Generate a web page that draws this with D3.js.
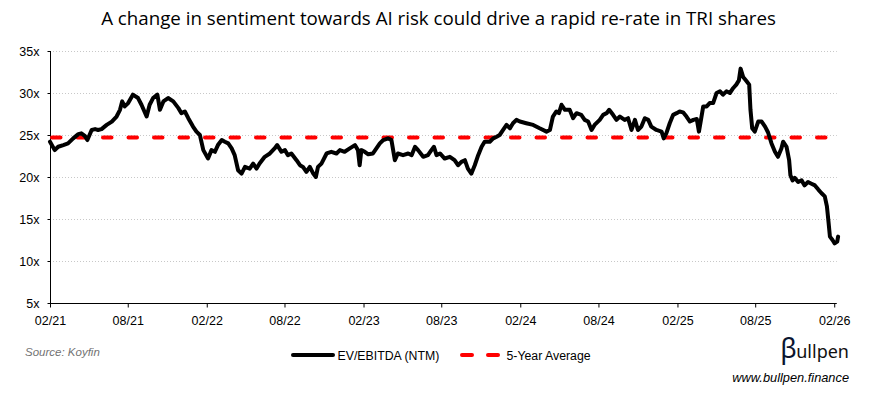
<!DOCTYPE html>
<html>
<head>
<meta charset="utf-8">
<script src="https://cdn.jsdelivr.net/npm/d3@7"></script>
<style>
  html, body { margin: 0; padding: 0; background: #fff; }
  svg { display: block; }
</style>
</head>
<body>
<svg id="chart" width="869" height="395"></svg>
<script>
const titleText = "A change in sentiment towards AI risk could drive a rapid re-rate in TRI shares";
const seriesName = "EV/EBITDA (NTM)";
const avgName = "5-Year Average";
const sourceText = "Source: Koyfin";
const brandRest = "ullpen";
const brandUrl = "www.bullpen.finance";

const yTicks = [5, 10, 15, 20, 25, 30, 35];
const xTickDates = ["2021-02-01","2021-08-01","2022-02-01","2022-08-01","2023-02-01","2023-08-01",
                    "2024-02-01","2024-08-01","2025-02-01","2025-08-01","2026-02-01"];
const xDomain = ["2021-02-01", "2026-02-07"];
const yDomain = [5, 35];
const fiveYearAverage = 24.7;

const dates = [
"2021-02-01","2021-02-12","2021-02-20","2021-03-04","2021-03-15","2021-03-27","2021-04-08","2021-04-15","2021-04-23","2021-04-29",
"2021-05-09","2021-05-17","2021-05-24","2021-06-01","2021-06-13","2021-06-25","2021-07-06","2021-07-14","2021-07-19","2021-07-25",
"2021-08-02","2021-08-13","2021-08-25","2021-09-02","2021-09-14","2021-09-21","2021-09-29","2021-10-09","2021-10-15","2021-10-23",
"2021-11-03","2021-11-15","2021-11-27","2021-12-04","2021-12-12","2021-12-20","2021-12-31","2022-01-08","2022-01-16","2022-01-24",
"2022-02-04","2022-02-12","2022-02-20","2022-02-27","2022-03-08","2022-03-15","2022-03-23","2022-03-31","2022-04-07","2022-04-15",
"2022-04-23","2022-05-01","2022-05-12","2022-05-20","2022-05-28","2022-06-04","2022-06-16","2022-06-28","2022-07-09","2022-07-15",
"2022-07-25","2022-08-02","2022-08-09","2022-08-17","2022-08-29","2022-09-06","2022-09-13","2022-09-21","2022-09-29","2022-10-07",
"2022-10-13","2022-10-18","2022-10-26","2022-11-07","2022-11-18","2022-11-30","2022-12-08","2022-12-19","2022-12-31","2023-01-12",
"2023-01-19","2023-01-23","2023-01-27","2023-02-04","2023-02-12","2023-02-23","2023-03-03","2023-03-11","2023-03-19","2023-03-30",
"2023-04-07","2023-04-15","2023-04-22","2023-05-04","2023-05-16","2023-05-24","2023-06-01","2023-06-08","2023-06-20","2023-07-01",
"2023-07-09","2023-07-15","2023-07-21","2023-07-29","2023-08-09","2023-08-21","2023-09-01","2023-09-09","2023-09-17","2023-09-25",
"2023-10-02","2023-10-10","2023-10-18","2023-10-26","2023-11-03","2023-11-10","2023-11-22","2023-11-30","2023-12-08","2023-12-15",
"2023-12-23","2023-12-31","2024-01-08","2024-01-15","2024-01-23","2024-01-31","2024-02-15","2024-03-02","2024-03-17","2024-04-02",
"2024-04-10","2024-04-17","2024-04-25","2024-05-01","2024-05-07","2024-05-15","2024-05-26","2024-06-03","2024-06-11","2024-06-22",
"2024-06-30","2024-07-08","2024-07-16","2024-07-23","2024-08-04","2024-08-12","2024-08-20","2024-08-26","2024-09-04","2024-09-12",
"2024-09-20","2024-10-01","2024-10-09","2024-10-17","2024-10-25","2024-11-01","2024-11-09","2024-11-17","2024-11-25","2024-12-02",
"2024-12-14","2024-12-26","2024-12-31","2025-01-06","2025-01-14","2025-01-22","2025-01-30","2025-02-06","2025-02-14","2025-02-22",
"2025-03-02","2025-03-10","2025-03-18","2025-03-23","2025-03-27","2025-04-02","2025-04-10","2025-04-17","2025-04-25","2025-05-03",
"2025-05-11","2025-05-18","2025-05-26","2025-06-03","2025-06-11","2025-06-18","2025-06-24","2025-06-28","2025-07-04","2025-07-12",
"2025-07-18","2025-07-21","2025-07-25","2025-07-31","2025-08-08","2025-08-16","2025-08-24","2025-08-31","2025-09-08","2025-09-16",
"2025-09-23","2025-10-01","2025-10-05","2025-10-13","2025-10-19","2025-10-22","2025-10-27","2025-11-01","2025-11-09","2025-11-17",
"2025-11-24","2025-12-02","2025-12-10","2025-12-18","2025-12-26","2026-01-02","2026-01-10","2026-01-15","2026-01-19","2026-01-22",
"2026-01-28","2026-02-02","2026-02-08","2026-02-10"
];
const evEbitda = [
24.2,23.2,23.6,23.8,24.0,24.6,25.1,25.2,24.9,24.4,
25.6,25.7,25.6,25.7,26.2,26.6,27.2,28.0,29.0,28.4,
28.8,29.8,29.4,28.6,27.2,28.6,29.4,29.8,28.0,29.0,
29.4,29.0,28.2,27.6,27.8,27.0,26.0,25.4,25.0,23.2,
22.2,23.2,23.0,23.8,24.4,24.2,24.0,23.4,22.6,20.8,
20.4,21.2,21.0,21.6,21.0,21.6,22.4,22.8,23.4,23.8,
23.0,23.2,22.6,22.8,22.0,21.4,21.2,20.6,21.2,20.4,
20.0,21.2,21.6,22.8,23.0,22.8,23.2,23.0,23.4,23.8,
23.2,21.4,23.2,23.0,22.7,22.8,23.4,24.0,24.4,24.6,
24.4,22.0,22.8,22.6,22.8,22.6,23.6,23.2,22.4,22.6,
23.2,23.6,22.6,22.8,22.2,22.4,22.0,21.4,21.8,22.0,
21.0,20.4,21.4,22.6,23.6,24.2,24.2,24.6,24.8,25.0,
25.6,26.2,25.8,26.4,26.8,26.6,26.4,26.2,25.8,25.4,
25.6,27.2,27.8,27.6,28.6,28.0,28.0,27.0,27.6,27.4,
26.8,26.6,25.6,26.2,26.8,27.4,27.6,28.0,27.4,26.8,
27.2,26.8,27.0,25.6,26.8,25.6,26.0,27.0,26.8,26.0,
25.6,25.4,24.6,25.2,26.4,27.4,27.6,27.8,27.7,27.2,
26.6,26.8,26.9,25.4,26.6,28.4,28.4,28.8,28.8,30.0,
30.2,29.8,30.2,30.0,30.6,31.0,31.5,32.9,31.9,31.4,
31.0,28.0,25.8,25.4,26.6,26.6,26.0,25.3,24.0,23.0,
22.4,23.4,24.2,23.6,22.0,20.2,19.6,19.9,19.4,19.6,
19.0,19.4,19.2,19.0,18.5,18.1,17.7,16.5,14.5,12.9,
12.5,12.1,12.3,12.9
];

const parse = d3.timeParse("%Y-%m-%d");
const fmt = d3.timeFormat("%m/%y");
const data = dates.map((d, i) => ({ date: parse(d), value: evEbitda[i] }));

const svg = d3.select("#chart");
const plotLeft = 50, plotRight = 836.8, plotTop = 51, plotBottom = 303;

const x = d3.scaleTime().domain(xDomain.map(parse)).range([plotLeft, plotRight]);
const y = d3.scaleLinear().domain(yDomain).range([plotBottom, plotTop]);

const font = "'Liberation Sans', Arial, sans-serif";

// Title
const title = svg.append("text")
  .attr("x", 438.5).attr("y", 25)
  .attr("text-anchor", "middle")
  .style("font-family", "'Open Sans', sans-serif")
  .style("font-size", "18px")
  .style("fill", "#000")
  .text(titleText);
{
  const w = title.node().getComputedTextLength();
  title.style("font-size", (18 * 675 / w).toFixed(2) + "px");
}

// Gridlines
svg.append("g")
  .selectAll("line")
  .data(yTicks.filter(t => t !== yDomain[0]))
  .join("line")
  .attr("x1", plotLeft).attr("x2", plotRight)
  .attr("y1", d => y(d) + 0.5).attr("y2", d => y(d) + 0.5)
  .attr("stroke", "#c8c8c8")
  .attr("stroke-width", 1)
  .attr("stroke-dasharray", "1,2");

// Y axis
const yAxis = svg.append("g")
  .attr("transform", `translate(${plotLeft + 0.5},0)`)
  .call(d3.axisLeft(y).tickValues(yTicks).tickSize(3).tickPadding(8).tickFormat(d => d + "x"));
yAxis.select(".domain").attr("stroke", "#000").attr("d", `M0,${plotTop}V${plotBottom}`);
yAxis.selectAll(".tick line").attr("stroke", "#000");
yAxis.selectAll("text").style("font-family", font).style("font-size", "12.5px").style("fill", "#000");

// X axis
const xAxis = svg.append("g")
  .attr("transform", `translate(0,${plotBottom + 0.5})`)
  .call(d3.axisBottom(x).tickValues(xTickDates.map(parse)).tickSize(4).tickPadding(9).tickFormat(fmt));
xAxis.select(".domain").attr("stroke", "#000").attr("d", `M${plotLeft},0H${plotRight}`);
xAxis.selectAll(".tick line").attr("stroke", "#000");
xAxis.selectAll("text").style("font-family", font).style("font-size", "12.5px").style("fill", "#000");

// Average line
svg.append("line")
  .attr("x1", plotLeft + 2).attr("x2", x(data[data.length - 1].date))
  .attr("y1", y(fiveYearAverage)).attr("y2", y(fiveYearAverage))
  .attr("stroke", "#ff0000")
  .attr("stroke-width", 4)
  .attr("stroke-linecap", "round")
  .attr("stroke-dasharray", "8.5,17");

// Series line
svg.append("path")
  .datum(data)
  .attr("fill", "none")
  .attr("stroke", "#000")
  .attr("stroke-width", 4)
  .attr("stroke-linejoin", "round")
  .attr("stroke-linecap", "round")
  .attr("d", d3.line().x(d => x(d.date)).y(d => y(d.value)));

// Source
svg.append("text")
  .attr("x", 25).attr("y", 356)
  .style("font-family", font).style("font-size", "11.5px")
  .style("font-style", "italic").style("fill", "#737373")
  .text(sourceText);

// Legend
const lg = svg.append("g");
lg.append("line")
  .attr("x1", 293).attr("x2", 333).attr("y1", 355).attr("y2", 355)
  .attr("stroke", "#000").attr("stroke-width", 4).attr("stroke-linecap", "round");
lg.append("text")
  .attr("x", 337.5).attr("y", 359.5)
  .style("font-family", font).style("font-size", "12.3px").style("fill", "#000")
  .text(seriesName);
lg.append("line")
  .attr("x1", 462).attr("x2", 498).attr("y1", 355).attr("y2", 355)
  .attr("stroke", "#ff0000").attr("stroke-width", 4).attr("stroke-linecap", "round")
  .attr("stroke-dasharray", "10,16");
lg.append("text")
  .attr("x", 506.5).attr("y", 359.5)
  .style("font-family", font).style("font-size", "12.3px").style("fill", "#000")
  .text(avgName);

// Brand
const brand = svg.append("text")
  .attr("x", 849).attr("y", 358)
  .attr("text-anchor", "end")
  .style("font-family", "'Noto Sans', sans-serif")
  .style("fill", "#111");
brand.append("tspan").style("font-size", "27px").style("fill", "#0a1530").text("β");
brand.append("tspan").style("font-size", "18px").attr("dx", -0.5).text(brandRest);

svg.append("text")
  .attr("x", 849).attr("y", 382)
  .attr("text-anchor", "end")
  .style("font-family", font).style("font-size", "12.8px")
  .style("font-style", "italic").style("fill", "#000")
  .text(brandUrl);
</script>
</body>
</html>
